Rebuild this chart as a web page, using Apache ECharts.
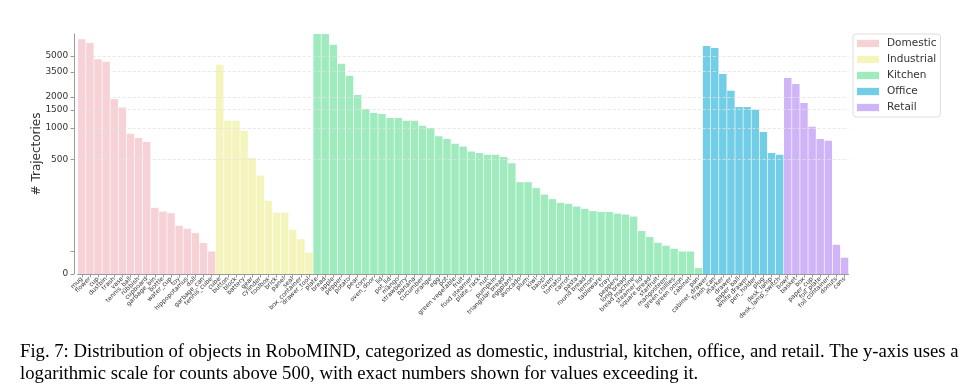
<!DOCTYPE html>
<html><head><meta charset="utf-8">
<script src="https://cdn.jsdelivr.net/npm/echarts@6/dist/echarts.min.js"></script>
<style>html,body{margin:0;padding:0;background:#fff}#c{width:970px;height:391px}</style>
</head><body><div id="c"></div>
<script>
// ---- data ----
const groupNames = ['Domestic', 'Industrial', 'Kitchen', 'Office', 'Retail'];
const groupColors = ['#F6D2D6', '#F4F4BD', '#A0EBBE', '#72CEE6', '#CFB5F7'];

const domesticCats = ['mug','flower','cup','dustbin','trash','vase','tennis_ball','rubbish','cupboard','garbage_bin','bottle','water_cup','toy','hippopotamus','doll','garbage_can','tennis_cube'];
const domesticVals = [7230,6650,4620,4390,1910,1580,880,800,735,288,272,265,210,197,178,135,98];

const industrialCats = ['cube','button','block','battery','gear','cylinder','toolbox','brick','panel','seal','box_container','drawer_tool'];
const industrialVals = [4100,1180,1180,940,512,429,319,267,267,193,152,93];

const kitchenCats = ['plate','bread','apple','pepper','potato','pear','corn','oven_door','lid','pot_lid','mango','strawberry','banana','cucumber','orange','egg','pot','green vegetable','fruit','food steamer','plate_rack','nut','pumpkin','triangular bread','eggplant','avocado','plum','kiwi','baozi','oven','tomato','carrot','pasta','round bread','lemon','tableware','tray','peppers','long bread','bread machine','steamer lid','square bread','starfruit','mangosteen','green chillies','green onion','cabinet','pan'];
const kitchenVals = [8130,8130,6400,4200,3210,2090,1530,1400,1370,1250,1250,1180,1180,1050,1000,834,785,703,662,593,575,551,551,526,482,400,400,374,346,326,310,306,294,284,274,270,270,263,259,250,187,161,136,123,110,98,98,26];

const officeCats = ['cabinet_drawer','trash_can','marker','drawer','paper_ball','white drawer','pen_holder','plug','desk_lamp','desk_lamp_switch'];
const officeVals = [6220,5940,3330,2290,1600,1600,1500,916,575,551];

const retailCats = ['bowl','basket','box','paper_cup','foil_plate','foil container','donuts','cans'];
const retailVals = [3050,2670,1750,1030,785,752,127,71];

const yTickValues = [0, 500, 1000, 1500, 2000, 3500, 5000];
const yMinorTickValues = [100];
const gridLineValues = [500, 1000, 1500, 2000, 3500, 5000];
const yMaxValue = 8130;

const captionLines = [
  'Fig. 7: Distribution of objects in RoboMIND, categorized as domestic, industrial, kitchen, office, and retail. The y-axis uses a',
  'logarithmic scale for counts above 500, with exact numbers shown for values exceeding it.'
];

// ---- symlog transform (linear below 500, log above) ----
const LIN = 500, LINSCALE = 1 / (1 - 0.1);
function T(v) { return v <= LIN ? v / LIN * LINSCALE : LINSCALE + Math.log10(v / LIN); }
function Tinv(t) { return t <= LINSCALE ? t / LINSCALE * LIN : LIN * Math.pow(10, t - LINSCALE); }

const groupCats = [domesticCats, industrialCats, kitchenCats, officeCats, retailCats];
const groupVals = [domesticVals, industrialVals, kitchenVals, officeVals, retailVals];
const categories = [].concat(...groupCats);
const N = categories.length;

const series = [];
let off = 0;
groupVals.forEach((vals, g) => {
  const data = new Array(N).fill('-');
  vals.forEach((v, i) => { data[off + i] = T(v); });
  off += vals.length;
  series.push({
    name: groupNames[g], type: 'bar', data: data,
    barWidth: '92%', barGap: '-100%', z: 3,
    itemStyle: { color: groupColors[g] },
    emphasis: { disabled: true }
  });
});
series.push({
  name: 'grid', type: 'line', data: [], z: 1, silent: true,
  markLine: {
    silent: true, symbol: ['none', 'none'], animation: false,
    label: { show: false },
    lineStyle: { type: [3, 2], color: '#e2e2e2', width: 0.8 },
    data: gridLineValues.map(v => ({ yAxis: T(v) }))
  }
});

function labelFor(t) {
  const raw = Tinv(t);
  let best = yTickValues[0], bd = Infinity;
  yTickValues.forEach(v => { const d = Math.abs(v - raw); if (d < bd) { bd = d; best = v; } });
  return String(best);
}

const chart = echarts.init(document.getElementById('c'), null, { renderer: 'canvas' });
chart.setOption({
  animation: false,
  backgroundColor: '#fff',
  textStyle: { fontFamily: 'DejaVu Sans' },
  grid: { left: 77.7, right: 121.4, top: 34, bottom: 117, containLabel: false },
  legend: {
    data: groupNames, orient: 'vertical', left: 853, top: 34,
    icon: 'rect', itemWidth: 22, itemHeight: 7.3, itemGap: 3,
    padding: [3, 4, 3, 4],
    borderColor: '#d4d4d4', borderWidth: 0.8, borderRadius: 3, backgroundColor: '#fff',
    textStyle: { fontSize: 10.5, color: '#333', lineHeight: 13, padding: [0, 0, 0, 3], fontFamily: 'DejaVu Sans' },
    selectedMode: false
  },
  xAxis: {
    type: 'category', data: categories,
    axisLine: { lineStyle: { color: '#9a9a9a', width: 1 } },
    axisTick: { show: true, alignWithLabel: true, length: 3.5, lineStyle: { color: '#9a9a9a' } },
    axisLabel: { interval: 0, rotate: 45, fontSize: 6.2, margin: 4, color: '#333', fontFamily: 'DejaVu Sans' },
    splitLine: { show: false }
  },
  yAxis: {
    type: 'value', min: 0, max: T(yMaxValue), offset: 3.7,
    name: '# Trajectories', nameLocation: 'middle', nameGap: 31, nameMoveOverlap: false,
    nameTextStyle: { fontSize: 12, color: '#333', fontFamily: 'DejaVu Sans' },
    axisLine: { show: true, lineStyle: { color: '#9a9a9a', width: 1 } },
    axisTick: { show: true, length: 3.5, lineStyle: { color: '#9a9a9a' },
      customValues: yTickValues.concat(yMinorTickValues).map(T) },
    axisLabel: { fontSize: 9, margin: 5.7, color: '#333', fontFamily: 'DejaVu Sans',
      customValues: yTickValues.map(T), formatter: v => labelFor(v) },
    splitLine: { show: false }
  },
  series: series,
  graphic: captionLines.map((line, i) => ({
    type: 'text', x: 20, y: 352 + i * 22,
    style: { text: line, font: '18.7px "Liberation Serif"', fill: '#000', verticalAlign: 'middle', align: 'left' }
  }))
});
</script></body></html>
